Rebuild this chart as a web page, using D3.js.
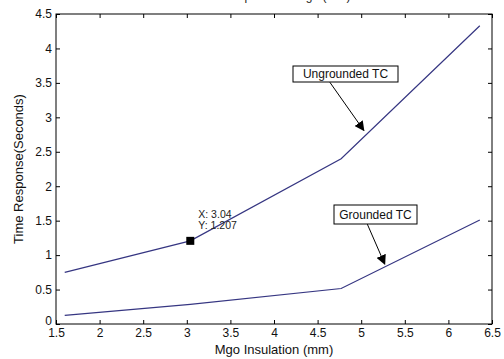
<!DOCTYPE html>
<html>
<head>
<meta charset="utf-8">
<script src="https://cdn.jsdelivr.net/npm/d3@7/dist/d3.min.js"></script>
<style>
  html, body { margin: 0; padding: 0; background: #fff; }
  svg { display: block; font-family: "Liberation Sans", Arial, sans-serif; }
</style>
</head>
<body>
<svg id="chart" width="504" height="359"></svg>
<script>
// Insulation thickness (mm) and time response (s) for each thermocouple type
const ungroundedX = [1.6, 3.04, 4.77, 6.36];
const ungroundedY = [0.75, 1.207, 2.4, 4.33];
const groundedX = [1.6, 3.04, 4.77, 6.36];
const groundedY = [0.125, 0.285, 0.515, 1.51];

const xTicks = [1.5, 2, 2.5, 3, 3.5, 4, 4.5, 5, 5.5, 6, 6.5];
const yTicks = [0, 0.5, 1, 1.5, 2, 2.5, 3, 3.5, 4, 4.5];

const dataTip = { x: 3.04, y: 1.207 };

const svg = d3.select("#chart");
const plotLeft = 56, plotRight = 492, plotTop = 14, plotBottom = 324;

const x = d3.scaleLinear().domain([1.5, 6.5]).range([plotLeft, plotRight]);
const y = d3.scaleLinear().domain([0, 4.5]).range([plotBottom, plotTop]);

const fmt = d => String(d);

// Title, sitting right at the top edge of the figure
svg.append("text")
  .attr("x", 272).attr("y", 0)
  .attr("text-anchor", "middle")
  .attr("font-size", 12).attr("fill", "#222")
  .text("Time Response vs Mgo (mm)");

// Axes with inward ticks on all four sides
const axisStyle = g => {
  g.select(".domain").remove();
  g.selectAll(".tick line").attr("stroke", "#000");
  g.selectAll(".tick text").attr("fill", "#111").attr("font-size", 12)
    .attr("font-family", "Liberation Sans, Arial, sans-serif");
};

svg.append("g").attr("transform", `translate(0,${plotBottom})`)
  .call(d3.axisBottom(x).tickValues(xTicks).tickFormat(fmt).tickSizeInner(-4).tickSizeOuter(0).tickPadding(4))
  .call(axisStyle);
svg.append("g").attr("transform", `translate(0,${plotTop})`)
  .call(d3.axisTop(x).tickValues(xTicks).tickFormat("").tickSizeInner(-4).tickSizeOuter(0))
  .call(axisStyle);
const yAxisG = svg.append("g").attr("transform", `translate(${plotLeft},0)`)
  .call(d3.axisLeft(y).tickValues(yTicks).tickFormat(fmt).tickSizeInner(-4).tickSizeOuter(0).tickPadding(4))
  .call(axisStyle);
// lift the zero label a little so it clears the first x label
yAxisG.selectAll(".tick text").filter(d => d === 0).attr("dy", "0.05em");
svg.append("g").attr("transform", `translate(${plotRight},0)`)
  .call(d3.axisRight(y).tickValues(yTicks).tickFormat("").tickSizeInner(-4).tickSizeOuter(0))
  .call(axisStyle);

// Plot box
svg.append("rect")
  .attr("x", plotLeft).attr("y", plotTop)
  .attr("width", plotRight - plotLeft).attr("height", plotBottom - plotTop)
  .attr("fill", "none").attr("stroke", "#000").attr("stroke-width", 1);

// Axis titles
svg.append("text")
  .attr("x", (plotLeft + plotRight) / 2).attr("y", 354)
  .attr("text-anchor", "middle").attr("font-size", 13).attr("fill", "#111")
  .text("Mgo Insulation (mm)");
svg.append("text")
  .attr("transform", `translate(23,${(plotTop + plotBottom) / 2}) rotate(-90)`)
  .attr("text-anchor", "middle").attr("font-size", 13).attr("fill", "#111")
  .text("Time Response(Seconds)");

// Series lines
const line = d3.line().x(d => x(d[0])).y(d => y(d[1]));
const series = [
  d3.zip(ungroundedX, ungroundedY),
  d3.zip(groundedX, groundedY)
];
svg.append("g").selectAll("path").data(series).join("path")
  .attr("d", line)
  .attr("fill", "none")
  .attr("stroke", "#363682")
  .attr("stroke-width", 1.2);

// Data tip marker and readout
svg.append("rect")
  .attr("x", x(dataTip.x) - 4).attr("y", y(dataTip.y) - 4)
  .attr("width", 8).attr("height", 8).attr("fill", "#000");
const tip = svg.append("text")
  .attr("font-size", 10.5).attr("fill", "#222");
tip.append("tspan").attr("x", x(dataTip.x) + 8).attr("y", y(dataTip.y) - 23).text(`X: ${dataTip.x}`);
tip.append("tspan").attr("x", x(dataTip.x) + 8).attr("y", y(dataTip.y) - 12).text(`Y: ${dataTip.y}`);

// Arrow annotations (tail at the label box, head at the curve, in data units)
svg.append("defs").append("marker")
  .attr("id", "arrowhead")
  .attr("viewBox", "0 0 10 10").attr("refX", 9).attr("refY", 5)
  .attr("markerWidth", 10).attr("markerHeight", 10)
  .attr("markerUnits", "userSpaceOnUse")
  .attr("orient", "auto")
  .append("path").attr("d", "M0,0 L10,5 L0,10 z").attr("fill", "#000");

const notes = [
  { label: "Ungrounded TC", bx: 293, by: 66, bw: 105, bh: 16, tx: 4.64, ty: 3.51, ax: 5.03, ay: 2.81 },
  { label: "Grounded TC", bx: 334, by: 205, bw: 83, bh: 19, tx: 5.07, ty: 1.45, ax: 5.27, ay: 0.87 }
];
notes.forEach(n => {
  svg.append("line")
    .attr("x1", x(n.tx)).attr("y1", y(n.ty))
    .attr("x2", x(n.ax)).attr("y2", y(n.ay))
    .attr("stroke", "#000").attr("stroke-width", 1)
    .attr("marker-end", "url(#arrowhead)");
  svg.append("rect")
    .attr("x", n.bx).attr("y", n.by).attr("width", n.bw).attr("height", n.bh)
    .attr("fill", "#fff").attr("stroke", "#000").attr("stroke-width", 1);
  svg.append("text")
    .attr("x", n.bx + n.bw / 2).attr("y", n.by + n.bh / 2 + 4)
    .attr("text-anchor", "middle").attr("font-size", 12).attr("fill", "#111")
    .text(n.label);
});
</script>
</body>
</html>
